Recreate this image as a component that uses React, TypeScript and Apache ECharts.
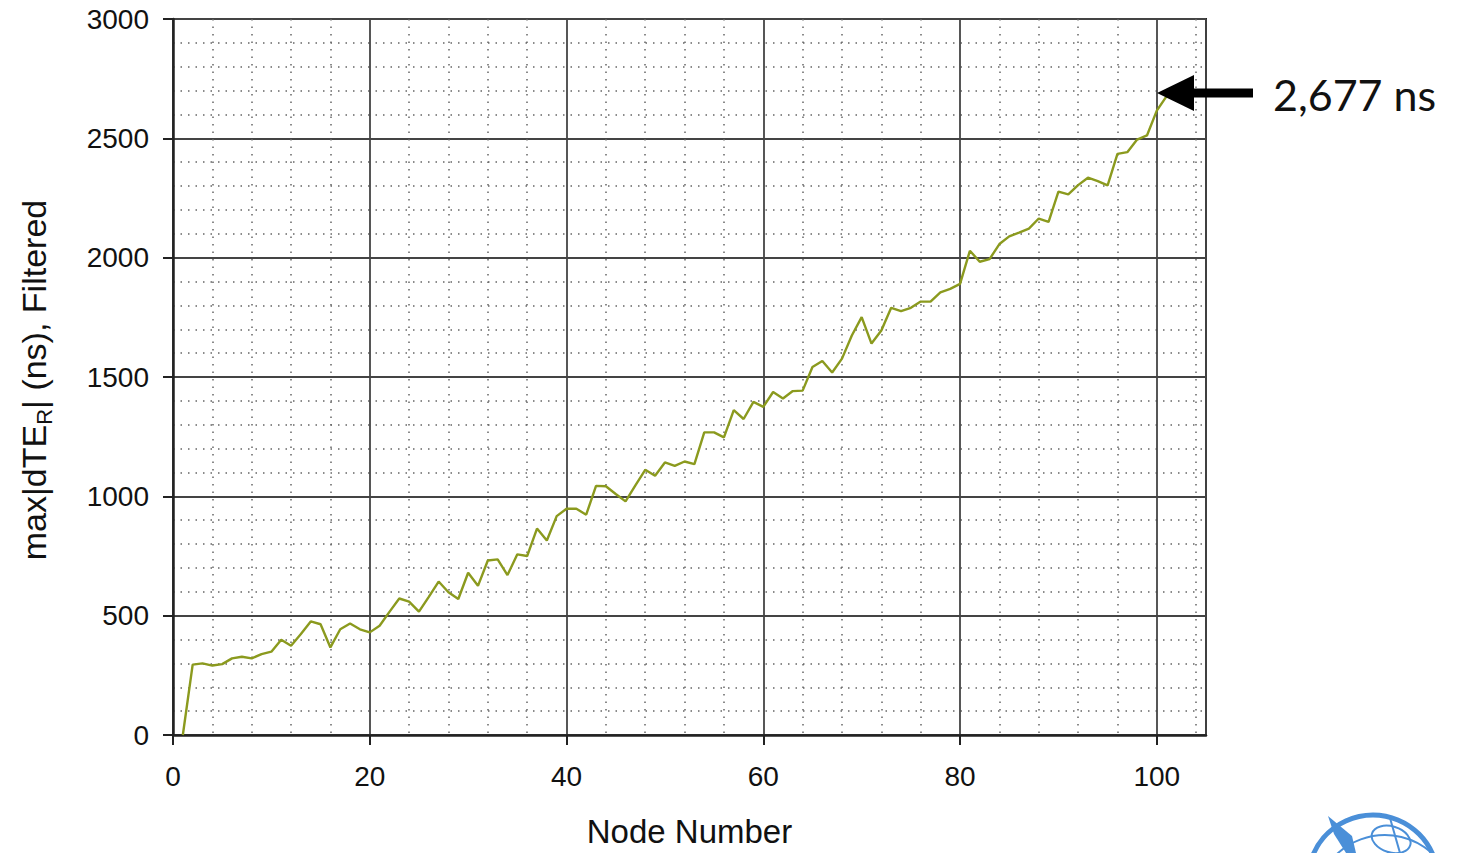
import React, { useEffect, useRef } from "react";
import * as echarts from "echarts";

const nodes: number[] = [
  1, 2, 3, 4, 5, 6, 7, 8, 9, 10, 11, 12, 13, 14, 15, 16, 17, 18, 19, 20,
  21, 22, 23, 24, 25, 26, 27, 28, 29, 30, 31, 32, 33, 34, 35, 36, 37, 38, 39, 40,
  41, 42, 43, 44, 45, 46, 47, 48, 49, 50, 51, 52, 53, 54, 55, 56, 57, 58, 59, 60,
  61, 62, 63, 64, 65, 66, 67, 68, 69, 70, 71, 72, 73, 74, 75, 76, 77, 78, 79, 80,
  81, 82, 83, 84, 85, 86, 87, 88, 89, 90, 91, 92, 93, 94, 95, 96, 97, 98, 99, 100, 101,
];

const maxDTE: number[] = [
  0, 295, 300, 291, 297, 321, 328, 321, 339, 349,
  399, 374, 423, 476, 464, 367, 443, 467, 443, 430,
  458, 516, 572, 559, 517, 579, 643, 598, 570, 680,
  625, 731, 736, 670, 757, 750, 865, 815, 917, 948,
  948, 923, 1044, 1042, 1010, 979, 1046, 1111, 1086, 1142,
  1128, 1146, 1135, 1268, 1268, 1247, 1361, 1324, 1396, 1375,
  1437, 1410, 1441, 1443, 1542, 1567, 1519, 1577, 1674, 1751,
  1640, 1695, 1790, 1776, 1790, 1816, 1816, 1855, 1869, 1890,
  2029, 1983, 1994, 2057, 2089, 2105, 2122, 2164, 2150, 2277,
  2265, 2304, 2335, 2321, 2303, 2435, 2442, 2495, 2512, 2616,
  2677,
];

const annotationText = "2,677 ns";
const xName = "Node Number";
const yNameParts = ["max|dTE", "R", "| (ns), Filtered"];

const FONT = "'Liberation Sans', Arial, Helvetica, sans-serif";

function measure(text: string, size: number): number {
  const c = document.createElement("canvas").getContext("2d");
  if (!c) return text.length * size * 0.55;
  c.font = `${size}px 'Liberation Sans', Arial, sans-serif`;
  return c.measureText(text).width;
}

export default function App() {
  const ref = useRef<HTMLDivElement>(null);

  useEffect(() => {
    if (!ref.current) return;
    const chart = echarts.init(ref.current, undefined, { renderer: "svg" });
    const seriesData = nodes.map((n, i) => [n, maxDTE[i]]);
    const logoColor = "#4a8fd8";

    // y-axis title with subscript, built from three text pieces
    const mainSize = 34;
    const subSize = 22;
    const w0 = measure(yNameParts[0], mainSize);
    const w1 = measure(yNameParts[1], subSize);
    const w2 = measure(yNameParts[2], mainSize);
    const total = w0 + w1 + w2;
    const start = -total / 2;
    const yTitle = {
      type: "group",
      x: 34,
      y: 380,
      rotation: Math.PI / 2,
      children: [
        {
          type: "text",
          x: start,
          y: 0,
          style: { text: yNameParts[0], fontFamily: FONT, fontSize: mainSize, fill: "#111", align: "left", verticalAlign: "middle" },
        },
        {
          type: "text",
          x: start + w0,
          y: 10,
          style: { text: yNameParts[1], fontFamily: FONT, fontSize: subSize, fill: "#111", align: "left", verticalAlign: "middle" },
        },
        {
          type: "text",
          x: start + w0 + w1,
          y: 0,
          style: { text: yNameParts[2], fontFamily: FONT, fontSize: mainSize, fill: "#111", align: "left", verticalAlign: "middle" },
        },
      ],
    };

    const option: any = {
      animation: false,
      backgroundColor: "#ffffff",
      grid: {
        left: 173,
        right: 260,
        top: 19,
        bottom: 115,
        show: true,
        borderColor: "#222",
        borderWidth: 2,
      },
      xAxis: {
        type: "value",
        min: 0,
        max: 105,
        interval: 20,
        name: xName,
        nameLocation: "middle",
        nameGap: 80,
        nameTextStyle: { fontFamily: FONT, fontSize: 33, color: "#111" },
        axisLine: { show: true, onZero: false, lineStyle: { color: "#222", width: 2.5 } },
        axisTick: { show: true, inside: false, length: 10, lineStyle: { color: "#222", width: 2 } },
        axisLabel: {
          margin: 27,
          fontFamily: FONT,
          fontSize: 28,
          color: "#111",
          showMaxLabel: false,
          formatter: (v: number) => (v > 100 ? "" : String(v)),
        },
        splitLine: { show: true, lineStyle: { color: "#444", width: 1.8 } },
        minorTick: { show: false, splitNumber: 5 },
        minorSplitLine: { show: true, lineStyle: { color: "#666", width: 1.5, type: [1.5, 6] } },
      },
      yAxis: {
        type: "value",
        min: 0,
        max: 3000,
        interval: 500,
        axisLine: { show: true, lineStyle: { color: "#222", width: 2.5 } },
        axisTick: { show: true, inside: false, length: 10, lineStyle: { color: "#222", width: 2 } },
        axisLabel: {
          margin: 24,
          fontFamily: FONT,
          fontSize: 28,
          color: "#111",
          formatter: (v: number) => String(v),
        },
        splitLine: { show: true, lineStyle: { color: "#444", width: 1.8 } },
        minorTick: { show: false, splitNumber: 5 },
        minorSplitLine: { show: true, lineStyle: { color: "#666", width: 1.5, type: [1.5, 6] } },
      },
      series: [
        {
          type: "line",
          data: seriesData,
          showSymbol: false,
          symbol: "none",
          lineStyle: { color: "#8b9a1e", width: 2.4 },
          z: 5,
        },
      ],
      graphic: [
        yTitle,
        {
          type: "polygon",
          z: 100,
          shape: { points: [[1157, 93], [1194, 75], [1194, 111]] },
          style: { fill: "#000" },
        },
        {
          type: "rect",
          z: 100,
          shape: { x: 1190, y: 88.5, width: 63, height: 9 },
          style: { fill: "#000" },
        },
        {
          type: "text",
          z: 100,
          x: 1273,
          y: 94,
          style: {
            text: annotationText,
            fontFamily: "Lato, 'Open Sans', sans-serif",
            fontSize: 43,
            fill: "#111",
            verticalAlign: "middle",
            align: "left",
          },
        },
        {
          type: "arc",
          z: 50,
          shape: { cx: 1373, cy: 880, r: 65, startAngle: Math.PI * 1.1, endAngle: Math.PI * 2.15 },
          style: { stroke: logoColor, lineWidth: 5, fill: "none" },
        },
        {
          type: "arc",
          z: 50,
          shape: { cx: 1385, cy: 905, r: 70, startAngle: Math.PI * 1.2, endAngle: Math.PI * 1.95 },
          style: { stroke: logoColor, lineWidth: 2, fill: "none" },
        },
        {
          type: "ellipse",
          z: 50,
          rotation: -0.3,
          originX: 1392,
          originY: 839,
          shape: { cx: 1392, cy: 839, rx: 20, ry: 13 },
          style: { stroke: logoColor, lineWidth: 2, fill: "none" },
        },
        {
          type: "line",
          z: 50,
          shape: { x1: 1390, y1: 818, x2: 1400, y2: 853 },
          style: { stroke: logoColor, lineWidth: 2 },
        },
        {
          type: "polygon",
          z: 50,
          shape: { points: [[1328, 816], [1352, 836], [1356, 853], [1346, 853], [1334, 834]] },
          style: { fill: logoColor },
        },
      ],
    };

    chart.setOption(option);
    return () => chart.dispose();
  }, []);

  return (
    <div
      ref={ref}
      style={{ position: "fixed", left: 0, top: 0, width: 1466, height: 853, background: "#fff" }}
    />
  );
}
